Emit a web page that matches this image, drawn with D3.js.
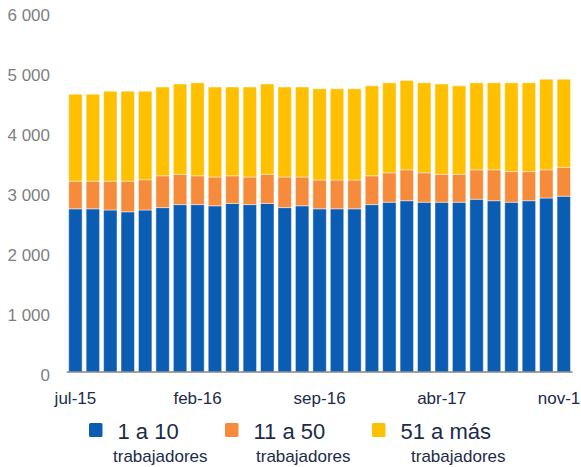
<!DOCTYPE html>
<html>
<head>
<meta charset="utf-8">
<script src="https://cdn.jsdelivr.net/npm/d3@7"></script>
<style>
  body { margin: 0; background: #fff; }
  svg { display: block; font-family: "Liberation Sans", Arial, sans-serif; }
</style>
</head>
<body>
<svg width="581" height="467"></svg>
<script>
// Data
var months = ["jul-15", "ago-15", "sep-15", "oct-15", "nov-15", "dic-15",
    "ene-16", "feb-16", "mar-16", "abr-16", "may-16", "jun-16", "jul-16", "ago-16",
    "sep-16", "oct-16", "nov-16", "dic-16", "ene-17", "feb-17", "mar-17", "abr-17",
    "may-17", "jun-17", "jul-17", "ago-17", "sep-17", "oct-17", "nov-17"];
var small = [2720, 2720, 2700, 2670, 2700, 2740, 2790, 2790, 2770, 2810, 2790, 2810, 2740, 2770,
    2720, 2720, 2720, 2790, 2830, 2855, 2830, 2830, 2830, 2880, 2855, 2830, 2855, 2900, 2930];
var medium = [460, 460, 480, 510, 505, 530, 505, 480, 480, 460, 460, 485, 510, 480,
    480, 480, 480, 480, 490, 515, 490, 465, 465, 490, 515, 510, 485, 470, 480];
var large = [1450, 1450, 1500, 1500, 1475, 1480, 1505, 1550, 1500, 1480, 1500, 1505, 1500, 1500,
    1520, 1520, 1520, 1500, 1500, 1490, 1500, 1505, 1475, 1450, 1450, 1480, 1480, 1510, 1470];
var yTicks = [0, 1000, 2000, 3000, 4000, 5000, 6000];
var xLabels = ["jul-15", "feb-16", "sep-16", "abr-17", "nov-17"];
var seriesNames = ["1 a 10", "11 a 50", "51 a más"];
var colors = ["#0b5db3", "#f68b3c", "#ffc000"];

var svg = d3.select("svg");

// table for the stack
var table = months.map(function (m, i) {
    return { month: m, s0: small[i], s1: medium[i], s2: large[i] };
});
var stack = d3.stack().keys(["s0", "s1", "s2"])(table);

var x = d3.scaleBand()
    .domain(months)
    .range([66.7, 572.5])
    .paddingInner(0.23)
    .paddingOuter(0.115);

var y = d3.scaleLinear()
    .domain([0, 6000])
    .range([372, 12]);

var fmt = d3.formatLocale({ decimal: ",", thousands: " ", grouping: [3], currency: ["", ""] }).format(",d");

// y labels, no axis line
svg.append("g")
    .selectAll("text")
    .data(yTicks)
    .enter()
    .append("text")
    .attr("x", 50)
    .attr("y", function (d) { return y(d) + 3; })
    .attr("dy", "0.35em")
    .attr("text-anchor", "end")
    .style("font-size", "17px")
    .style("fill", "#7f7f7f")
    .text(function (d) { return fmt(d); });

// bars
svg.append("g")
    .selectAll("g")
    .data(stack)
    .enter()
    .append("g")
    .attr("fill", function (d, i) { return colors[i]; })
    .selectAll("rect")
    .data(function (d) { return d; })
    .enter()
    .append("rect")
    .attr("x", function (d) { return x(d.data.month); })
    .attr("y", function (d) { return y(d[1]); })
    .attr("height", function (d) { return y(d[0]) - y(d[1]); })
    .attr("width", x.bandwidth())
    .attr("rx", 0.8)
    .style("stroke", "#fff")
    .style("stroke-opacity", 0.45)
    .style("stroke-width", 1);

// baseline
svg.append("line")
    .attr("x1", 66.7)
    .attr("x2", 572.5)
    .attr("y1", y(0))
    .attr("y2", y(0))
    .style("stroke", "#858585")
    .style("stroke-width", 1.6);

// x labels every 7 months
var xAxis = d3.axisBottom(x)
    .tickValues(xLabels)
    .tickSize(0)
    .tickPadding(0);

var gx = svg.append("g")
    .attr("transform", "translate(0," + 390 + ")")
    .call(xAxis);
gx.select(".domain").remove();
gx.selectAll("text")
    .attr("dy", "0.8em")
    .style("font-family", "Liberation Sans, Arial, sans-serif")
    .style("font-size", "17px")
    .style("fill", "#1c2b49");

// legend
var legendX = [89, 225, 372];
var subX = [113, 256, 411];
var legend = svg.append("g");

legend.selectAll("rect")
    .data(seriesNames)
    .enter()
    .append("rect")
    .attr("x", function (d, i) { return legendX[i]; })
    .attr("y", 423)
    .attr("width", 13.5)
    .attr("height", 14)
    .attr("rx", 1.5)
    .attr("fill", function (d, i) { return colors[i]; });

legend.selectAll("text.name")
    .data(seriesNames)
    .enter()
    .append("text")
    .attr("class", "name")
    .attr("x", function (d, i) { return legendX[i] + 28.5; })
    .attr("y", 439)
    .style("font-size", "22px")
    .style("fill", "#1c2b49")
    .text(function (d) { return d; });

legend.selectAll("text.sub")
    .data(seriesNames)
    .enter()
    .append("text")
    .attr("class", "sub")
    .attr("x", function (d, i) { return subX[i]; })
    .attr("y", 462)
    .style("font-size", "17px")
    .style("fill", "#1c2b49")
    .text("trabajadores");
</script>
</body>
</html>
